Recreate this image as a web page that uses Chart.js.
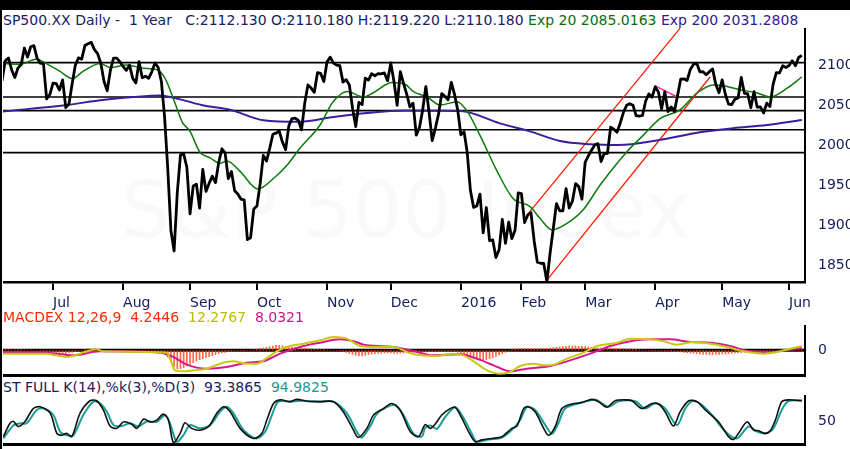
<!DOCTYPE html>
<html>
<head>
<meta charset="utf-8">
<title>SP500 daily</title>
<script src="https://cdn.jsdelivr.net/npm/chart.js@4.4.1/dist/chart.umd.min.js"></script>
<style>
  html, body { margin: 0; padding: 0; }
  body { width: 850px; height: 449px; background: #fff; position: relative; overflow: hidden;
         font-family: 'DejaVu Sans', sans-serif; color: #172060; }
  #topBar { position: absolute; left: 0; top: 0; width: 850px; height: 10px; background: #000; }
  #leftBar { position: absolute; left: 0; top: 10px; width: 2px; height: 439px; background: #000; }
  .label { position: absolute; left: 3px; font-size: 14px; line-height: 16px; white-space: pre; }
  .panel { position: absolute; left: 3px; width: 847px; }
</style>
</head>
<body>
<div id="topBar"></div>
<div id="leftBar"></div>

<div class="label" style="top:12px;">SP500.XX Daily -  1 Year   C:2112.130 O:2110.180 H:2119.220 L:2110.180 <span style="color:#0b6e0b">Exp 20 2085.0163</span> <span style="color:#35188c">Exp 200 2031.2808</span></div>
<div class="panel" style="top:28px; height:290px;"><canvas id="priceChart"></canvas></div>

<div class="label" style="top:309px; color:#ff2a00;">MACDEX 12,26,9  4.2446  <span style="color:#bdbd00">12.2767</span>  <span style="color:#cc1188">8.0321</span></div>
<div class="panel" style="top:325px; height:52px;"><canvas id="macdChart"></canvas></div>

<div class="label" style="top:379px;">ST FULL K(14),%k(3),%D(3)  93.3865  <span style="color:#199a90">94.9825</span></div>
<div class="panel" style="top:395px; height:51px;"><canvas id="stochChart"></canvas></div>

<script>
// Daily closes, one per trading day, 8 Jun 2015 .. 7 Jun 2016 (x = trading day index)
const closes = [
  2079.28, 2080.15, 2105.20, 2108.86, 2094.11, 2084.43, 2096.29, 2100.44, 2121.24, 2109.99, 2122.85, 2124.20, 2108.58, 2102.31, 2101.49, 2057.64, 2063.11,
  2077.42, 2076.78, 2068.76, 2081.34, 2046.68, 2051.31, 2076.62, 2099.60, 2108.95, 2107.40, 2124.29, 2126.64, 2128.28, 2119.21, 2114.15, 2102.15, 2079.65, 2067.64, 2093.25, 2108.57, 2108.63, 2103.84,
  2098.04, 2093.32, 2099.84, 2083.56, 2077.57, 2104.18, 2084.07, 2086.05, 2083.39, 2091.54, 2102.44, 2096.92, 2079.61, 2035.73, 1970.89, 1893.21, 1867.61, 1940.51, 1987.66, 1988.87, 1972.18,
  1913.85, 1948.86, 1951.13, 1921.22, 1969.41, 1942.04, 1952.29, 1961.05, 1953.03, 1978.09, 1995.31, 1990.20, 1958.03, 1966.97, 1942.74, 1938.76, 1932.24, 1931.34, 1881.77, 1884.09, 1920.03,
  1923.82, 1951.36, 1987.05, 1979.92, 1995.83, 2013.43, 2014.89, 2017.46, 2003.69, 1994.24, 2023.86, 2033.11, 2033.66, 2030.77, 2018.94, 2052.51, 2075.15, 2071.18, 2065.89, 2090.35, 2089.41, 2079.36,
  2104.05, 2109.79, 2102.31, 2099.93, 2099.20, 2078.58, 2081.72, 2075.00, 2045.97, 2023.04, 2053.19, 2050.44, 2083.58, 2081.24, 2089.17, 2086.59, 2089.14, 2088.87, 2090.11, 2080.41,
  2102.63, 2079.51, 2049.62, 2091.69, 2077.07, 2063.59, 2047.62, 2052.23, 2012.37, 2021.94, 2043.41, 2073.07, 2041.89, 2005.55, 2021.15, 2038.97, 2064.29, 2060.99, 2056.50, 2078.36, 2063.36, 2043.94,
  2012.66, 2016.71, 1990.26, 1943.09, 1922.03, 1923.67, 1938.68, 1890.28, 1921.84, 1880.33, 1881.33, 1859.33, 1868.99, 1906.90, 1877.08, 1903.63, 1882.95, 1893.36, 1940.24,
  1939.38, 1903.03, 1912.53, 1915.45, 1880.05, 1853.44, 1852.21, 1851.86, 1829.08, 1864.78, 1895.58, 1926.82, 1917.83, 1917.78, 1945.50, 1921.27, 1929.80, 1951.70, 1948.05, 1932.23,
  1978.35, 1986.45, 1993.40, 1999.99, 2001.76, 1979.26, 1989.26, 1989.57, 2022.19, 2019.64, 2015.93, 2027.22, 2040.59, 2049.58, 2051.60, 2049.80, 2036.71, 2035.94, 2037.05, 2055.01, 2063.95, 2059.74,
  2072.78, 2066.13, 2045.17, 2066.66, 2041.91, 2047.60, 2041.99, 2061.72, 2082.42, 2082.78, 2080.73, 2094.34, 2100.80, 2102.40, 2091.48, 2091.58, 2087.79, 2091.70, 2095.15, 2075.81, 2065.30,
  2081.43, 2063.37, 2051.12, 2050.63, 2057.14, 2058.69, 2084.39, 2064.46, 2064.11, 2046.61, 2066.66, 2047.21, 2047.63, 2040.04, 2052.32, 2048.04, 2076.06, 2090.54, 2090.10, 2099.06, 2096.95,
  2099.33, 2105.26, 2099.13, 2109.41, 2112.13
];

// Moving averages: [trading day, value]
const ema20 = [
  [0.4, 2102], [6.7, 2101], [12, 2107.5], [13.9, 2104], [19.2, 2092], [23, 2083], [26.4, 2092], [31.8, 2102],
  [34.9, 2097], [40.2, 2100], [45.3, 2096], [49.7, 2094], [52.2, 2083], [55.5, 2050], [57.5, 2029], [60, 2017],
  [63.1, 1991], [66.3, 1984], [69.4, 1977], [71.6, 1980], [75.7, 1967], [81.3, 1945], [86.7, 1960], [90.5, 1975],
  [94.5, 1996], [100.8, 2025], [104.9, 2054], [109.3, 2067], [114.3, 2060], [117.4, 2065], [123.4, 2078], [127.5, 2076],
  [130, 2067], [134.4, 2060], [138.5, 2050], [143.8, 2054], [147, 2042], [151, 2012], [156.4, 1967], [161.4, 1933],
  [166.7, 1923], [169.9, 1908], [173.6, 1894], [178.3, 1902], [183.4, 1919], [188.7, 1950], [197.2, 1992], [202.2, 2012],
  [207.5, 2033], [213.8, 2044], [219.1, 2065], [224.2, 2075], [227.3, 2074], [232.6, 2069], [238, 2065], [242, 2060],
  [247.4, 2071], [252, 2085]
];
const ema200 = [
  [1.3, 2042], [21.4, 2050], [31.8, 2056], [42.1, 2060], [50.6, 2062], [56.9, 2057], [64.7, 2049], [72.6, 2044],
  [83, 2031], [94.5, 2029], [105, 2035], [115.6, 2040], [127.5, 2043], [144.8, 2042.5], [157.3, 2027], [166.7, 2017],
  [176.1, 2005], [185.6, 2001], [194.4, 2000], [206.9, 2006], [220, 2016], [230.4, 2021], [241.1, 2025], [252, 2031.3]
];

// Horizontal levels and drawn trend lines
const levelLines = [2103, 2060, 2043, 2019, 1990.5];
const channelUpper = [[166.2, 1914.6], [213.8, 2146]];
const channelLower = [[172, 1831], [223.2, 2085]];
const pinkLine = [[206, 2074], [212.9, 2060]];

// Month ticks (trading day index of first session) and labels
const monthTickDays = [17, 39, 60, 81, 103, 123, 145, 164, 184, 206, 227, 248];
const monthLabels = ['Jul', 'Aug', 'Sep', 'Oct', 'Nov', 'Dec', '2016', 'Feb', 'Mar', 'Apr', 'May', 'Jun'];
const priceTicks = [1850, 1900, 1950, 2000, 2050, 2100];

// MACD panel
const macdLine = [
  [0.4, -10], [15, -10], [21.3, -20], [27.6, -3], [30.7, 3], [32.8, -3], [52.7, -7], [53.7, -25], [55.3, -60],
  [57.4, -63], [61, -60], [65.2, -55], [69.4, -40], [73.6, -33], [77.8, -40], [81, -40], [84.1, -23], [87.2, -3],
  [91.4, 13], [95.6, 20], [100.8, 30], [105, 40], [109.2, 35], [113.4, 13], [118.6, 10], [123.8, 10], [129, -8],
  [132.5, -15], [137.5, -17], [142.7, -10], [145.8, -15], [149, -33], [153.2, -60], [157.3, -70], [160.5, -65],
  [163.6, -47], [167.8, -40], [171, -45], [174.1, -43], [178.3, -25], [183.5, -7], [187.7, 13], [194, 23],
  [198.2, 35], [204.4, 33], [208.6, 27], [212.8, 17], [218, 25], [223.3, 20], [228.5, 10], [233.7, -3],
  [240, -10], [244.2, -5], [248.4, 5], [252, 12.3]
];
const signalLine = [
  [0.4, -5], [15, -7], [23.4, -15], [31.8, -3], [50.6, -7], [54.8, -20], [59, -43], [65.2, -55], [71.5, -50],
  [77.8, -37], [83, -33], [88.3, -10], [94.5, 10], [100.8, 23], [107.1, 33], [111.3, 27], [115.5, 15], [123.8, 10],
  [129, 0], [132.2, -7], [135.4, -15], [144.8, -12], [150, -25], [155.3, -45], [160.5, -63], [165.7, -55],
  [173.1, -47], [178.3, -33], [185.6, -10], [191.9, 13], [198.2, 27], [204.4, 33], [210.7, 33], [217, 25],
  [223.3, 23], [229.5, 13], [235.8, -3], [242.1, -5], [247.3, 0], [252, 8]
];
// histogram, one bar per trading day
const macdHist = [
  2, 2, 3, 3, 2, 2, 3, 2, 2, 1, 1, 0, 0, -2, -4,
  -8, -12, -15, -15, -14, -12, -10, -8, -6, -4, -2, 1,
  3, 5, 5, 4, 2, 0,
  -1, -2, -3, -3, -2, -2, -3, -3, -2, -2, -3, -2, -2, -1, -2, -2, -3, -3, -4,
  -8, -20, -35, -48, -55, -55, -52, -47, -42, -37, -32,
  -28, -25, -22, -19, -16, -13, -10, -8, -6, -4, -3,
  -2, -2, -1, -1, 0, 1, 2, 3, 5,
  7, 9, 11, 13, 15, 15, 14, 12,
  11, 10, 9, 8, 7, 6, 5, 4, 3, 3,
  2, 2, 1, 1, 1, 0, -1, -3,
  -6, -9, -12, -15, -17, -17, -15, -13, -11,
  -10, -9, -9, -8, -8, -8, -9, -9, -8, -8, -7, -7, -6, -6, -6,
  -5, -5, -5, -4, -4, -4, -3, -3, -3, -3, -4, -6,
  -10, -14, -18, -22, -26, -28, -30, -30, -28, -25, -22, -18, -14, -10, -6, -2,
  2, 4, 5, 6, 6, 6, 6, 5, 5, 6, 6, 6, 7, 8, 9,
  10, 11, 12, 13, 13, 13, 12, 12, 11, 10, 9,
  8, 7, 7, 6, 6, 6, 5, 5, 5, 5, 4, 4, 3, 3, 2, 2,
  1, 0, 0, -1, -1, -2, -2, -2, -3, -3,
  -4, -5, -6, -7, -8, -9, -10, -11, -12, -12, -13, -13, -12, -12, -11, -11, -10, -9, -8, -8, -7, -6,
  -5, -5, -4, -4, -3, -3, -2, -2, -1, 0,
  1, 2, 3, 3, 4, 4, 4, 4
];

// Stochastic panel: [trading day, value]
const stochK = [
  [1.4, 16], [3.5, 45], [4.6, 49], [6.1, 38], [8.2, 49], [10.8, 77], [12.9, 81], [16.1, 67], [18.2, 23], [19.7, 19],
  [21.3, 23], [22.9, 16], [25.5, 67], [28.6, 94], [30.7, 94], [32.8, 74], [34.9, 39], [37, 34], [39.1, 48], [41.7, 43],
  [43.3, 34], [45.4, 54], [47.5, 48], [49.6, 52], [51.6, 65], [53.2, 52], [54.8, 3], [56.9, 23], [58.4, 46], [60.5, 34],
  [63.1, 30], [65.8, 38], [68.4, 67], [70.5, 81], [72.6, 70], [75.7, 34], [79.9, 12], [82.5, 23], [84.1, 52], [86.2, 88],
  [88.3, 96], [91.4, 92], [93.5, 97], [96.6, 93], [100.8, 92], [105, 92], [108.1, 70], [111.3, 30], [112.8, 14], [115.5, 34],
  [117.6, 63], [120.7, 77], [123.3, 88], [125.9, 74], [129.1, 27], [131.7, 16], [133.8, 42], [135.4, 34], [136.9, 43], [139, 63],
  [141.6, 77], [143.2, 80], [145.3, 56], [147.4, 27], [149.5, 5], [151.6, 9], [154.7, 12], [157.9, 16], [161, 34], [162.6, 39],
  [164.7, 77], [166.2, 81], [168.3, 70], [171, 34], [172.5, 19], [174.6, 38], [176.7, 77], [179.8, 87], [183, 90], [186.1, 97],
  [188.2, 92], [190.8, 80], [193.4, 94], [196.6, 96], [198.7, 94], [201.8, 77], [205, 88], [207.1, 87], [209.1, 70], [211.7, 39],
  [213.8, 70], [216.5, 94], [219.1, 92], [221.7, 74], [225.9, 48], [229, 16], [230.6, 10], [232.1, 23], [234.8, 48], [236.9, 30],
  [238.4, 29], [240.5, 23], [242.1, 29], [243.7, 52], [245.7, 92], [247.8, 96], [252, 93.4]
];
const stochD = [
  [1.4, 12], [4.6, 41], [6.7, 45], [8.7, 45], [11.9, 74], [14, 77], [17.1, 63], [19.2, 27], [21.3, 19], [23.4, 19],
  [26.5, 63], [29.7, 92], [31.8, 88], [33.9, 70], [36, 41], [38.6, 39], [41.2, 45], [43.8, 38], [46.4, 49], [49.6, 48],
  [52.2, 63], [53.7, 45], [55.8, 5], [57.9, 19], [60, 41], [63.1, 34], [66.3, 41], [69.4, 70], [71.5, 81], [73.6, 67],
  [76.8, 30], [80.9, 12], [83.6, 27], [85.7, 63], [87.7, 92], [91.4, 92], [94.5, 94], [100.8, 92], [105, 92], [109.2, 67],
  [112.3, 27], [113.9, 14], [116.5, 38], [118.6, 65], [121.7, 80], [124.4, 85], [127, 63], [130.1, 23], [132.7, 16], [133.8, 35],
  [135.4, 40], [137.5, 33], [140.1, 59], [143.2, 80], [145.3, 63], [148.4, 23], [150, 5], [153.7, 10], [157.9, 14], [161.5, 34],
  [163.6, 52], [165.7, 80], [168.3, 74], [171.5, 41], [173.6, 22], [175.6, 45], [177.7, 77], [181.9, 88], [187.2, 96], [191.3, 81],
  [194.5, 93], [199.7, 93], [202.9, 77], [206, 88], [209.1, 77], [212.8, 41], [215.4, 77], [217.5, 93], [220.1, 88], [223.8, 63],
  [228, 27], [231.6, 12], [235.3, 38], [237.9, 27], [240.5, 23], [243.1, 34], [245.7, 74], [247.8, 93], [252, 95]
];

// Visible range of trading days (left plot edge .. right axis)
const X_MIN = 1.3;
const X_MAX = 253;
const NAVY = '#172060';
const FONT = { family: 'DejaVu Sans', size: 14 };

const toPoints = pairs => pairs.map(p => ({ x: p[0], y: p[1] }));
const spanLine = v => [{ x: X_MIN, y: v }, { x: X_MAX, y: v }];

Chart.defaults.font.family = 'DejaVu Sans';
Chart.defaults.animation = false;
Chart.defaults.events = [];
Chart.defaults.plugins.legend.display = false;
Chart.defaults.plugins.tooltip.enabled = false;
Chart.defaults.elements.point.radius = 0;

// labels must not eat into the plot area
function noPadding(scale) {
  scale.paddingTop = 0;
  scale.paddingBottom = 0;
  scale.paddingLeft = 0;
  scale.paddingRight = 0;
}

// right-hand value axis, fixed width so all panels line up
function rightAxis(min, max, tickValues) {
  return {
    type: 'linear', position: 'right', min, max,
    grid: { display: false },
    border: { display: true, color: '#000', width: 2 },
    afterBuildTicks: scale => { scale.ticks = tickValues.map(v => ({ value: v })); },
    ticks: { color: NAVY, font: FONT, padding: 5, callback: v => String(v) },
    afterFit: scale => { scale.width = 45; noPadding(scale); }
  };
}

// bare x axis for the lower panels: only the thick bottom rule
function flatXAxis() {
  return {
    type: 'linear', min: X_MIN, max: X_MAX, offset: false,
    grid: { display: false, offset: false },
    ticks: { display: false },
    border: { display: true, color: '#000', width: 3 },
    afterFit: scale => { scale.height = 2; noPadding(scale); }
  };
}

// very faint name in the background of the price panel
const watermark = {
  id: 'watermark',
  beforeDatasetsDraw(chart) {
    const { ctx, chartArea } = chart;
    ctx.save();
    ctx.font = '78px "DejaVu Sans"';
    ctx.fillStyle = '#f9f9f9';
    ctx.textAlign = 'center';
    ctx.fillText('S&P 500 Index', chartArea.left + 403, chartArea.top + 209);
    ctx.restore();
  }
};

// Price panel
const levelSets = levelLines.map(v => ({
  data: spanLine(v), borderColor: '#000', borderWidth: 1.6, order: 6
}));

new Chart(document.getElementById('priceChart'), {
  type: 'line',
  data: {
    datasets: [
      { data: closes.map((c, i) => ({ x: i, y: c })), borderColor: '#000', borderWidth: 2.8,
        borderJoinStyle: 'round', order: 0 },
      { data: toPoints(ema20), borderColor: '#0b7a0b', borderWidth: 1.5, cubicInterpolationMode: 'monotone', order: 1 },
      { data: toPoints(ema200), borderColor: '#3a1e9c', borderWidth: 2, cubicInterpolationMode: 'monotone', order: 2 },
      { data: toPoints(channelUpper), borderColor: '#ff1a00', borderWidth: 1.3, order: 3 },
      { data: toPoints(channelLower), borderColor: '#ff1a00', borderWidth: 1.3, order: 3 },
      { data: toPoints(pinkLine), borderColor: '#ff2d9a', borderWidth: 1.5, order: 3 },
      ...levelSets
    ]
  },
  options: {
    responsive: true,
    maintainAspectRatio: false,
    layout: { padding: 0 },
    scales: {
      x: {
        type: 'linear', min: X_MIN, max: X_MAX,
        afterBuildTicks: scale => { scale.ticks = monthTickDays.map(v => ({ value: v })); },
        grid: { display: true, drawOnChartArea: false, tickLength: 8, lineWidth: 2, color: '#000' },
        border: { display: true, color: '#000', width: 2.5 },
        ticks: {
          color: NAVY, font: FONT, padding: 5, align: 'start', autoSkip: false, maxRotation: 0,
          callback: (value, index) => monthLabels[index]
        },
        afterFit: scale => { scale.height = 36; noPadding(scale); }
      },
      y: rightAxis(1828.75, 2146.25, priceTicks)
    }
  },
  plugins: [watermark]
});

// MACD panel
new Chart(document.getElementById('macdChart'), {
  type: 'line',
  data: {
    datasets: [
      { data: toPoints(macdLine), borderColor: '#c9c814', borderWidth: 2, cubicInterpolationMode: 'monotone', order: 0 },
      { data: toPoints(signalLine), borderColor: '#d61a8c', borderWidth: 2, cubicInterpolationMode: 'monotone', order: 1 },
      { type: 'bar', data: macdHist.map((h, i) => ({ x: i, y: h })), backgroundColor: 'rgba(255, 50, 10, 0.75)',
        barThickness: 1, order: 2 },
      { data: spanLine(0), borderColor: '#000', borderWidth: 3, order: 3 }
    ]
  },
  options: {
    responsive: true,
    maintainAspectRatio: false,
    layout: { padding: 0 },
    scales: { x: flatXAxis(), y: rightAxis(-74, 76, [0]) }
  }
});

// Stochastic panel
new Chart(document.getElementById('stochChart'), {
  type: 'line',
  data: {
    datasets: [
      { data: toPoints(stochK), borderColor: '#111', borderWidth: 1.6, tension: 0.3, order: 0 },
      { data: toPoints(stochD), borderColor: '#199e94', borderWidth: 2, tension: 0.3, order: 1 }
    ]
  },
  options: {
    responsive: true,
    maintainAspectRatio: false,
    layout: { padding: 0 },
    scales: { x: flatXAxis(), y: rightAxis(0, 106.5, [50]) }
  }
});
</script>
</body>
</html>
